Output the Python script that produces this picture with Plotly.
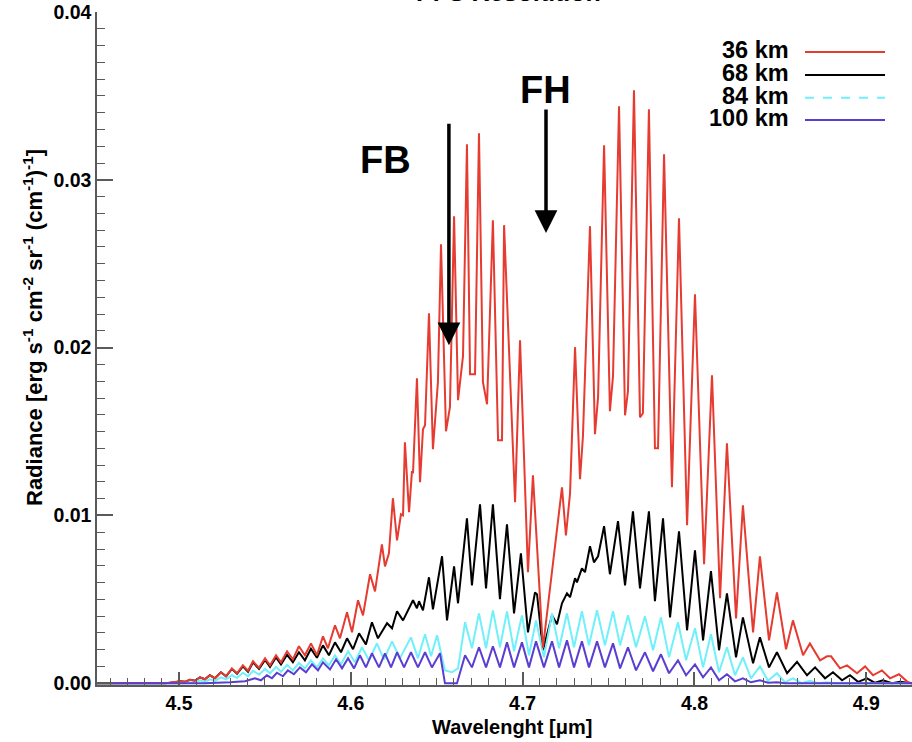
import plotly.graph_objects as go

# ---------------- data ----------------
wl_36 = [4.4523, 4.4889, 4.4948, 4.5006, 4.5035, 4.5064, 4.5093, 4.5122, 4.5151, 4.5180,
         4.5210, 4.5244, 4.5274, 4.5308, 4.5338, 4.5372, 4.5402, 4.5431, 4.5466, 4.5501,
         4.5530, 4.5565, 4.5594, 4.5629, 4.5663, 4.5698, 4.5733, 4.5768, 4.5803, 4.5838,
         4.5867, 4.5908, 4.5937, 4.5978, 4.6007, 4.6042, 4.6071, 4.6112, 4.6141, 4.6181,
         4.6199, 4.6222, 4.6245, 4.6269, 4.6292, 4.6304, 4.6315, 4.6339, 4.6356, 4.6362,
         4.6385, 4.6403, 4.6420, 4.6432, 4.6455, 4.6478, 4.6507, 4.6525, 4.6554, 4.6577,
         4.6601, 4.6624, 4.6653, 4.6676, 4.6694, 4.6723, 4.6746, 4.6769, 4.6793, 4.6827,
         4.6857, 4.6880, 4.6892, 4.6956, 4.6985, 4.7031, 4.7060, 4.7118, 4.7229, 4.7252,
         4.7276, 4.7305, 4.7334, 4.7351, 4.7392, 4.7421, 4.7439, 4.7474, 4.7508, 4.7526,
         4.7561, 4.7596, 4.7613, 4.7648, 4.7683, 4.7700, 4.7735, 4.7770, 4.7788, 4.7823,
         4.7869, 4.7910, 4.7957, 4.8003, 4.8056, 4.8102, 4.8149, 4.8189, 4.8242, 4.8282,
         4.8341, 4.8381, 4.8434, 4.8480, 4.8533, 4.8573, 4.8632, 4.8672, 4.8731, 4.8771,
         4.8795, 4.8847, 4.8888, 4.8946, 4.8993, 4.9039, 4.9091, 4.9138, 4.9190, 4.9243,
         4.9266]
rad_36 = [0, 0, 0.00003, 0.00012, 0.00009, 0.00021, 0.00015, 0.00036, 0.00024, 0.00048,
          0.00030, 0.00066, 0.00042, 0.00089, 0.00060, 0.00107, 0.00075, 0.00131, 0.00092, 0.00149,
          0.00107, 0.00167, 0.00125, 0.00191, 0.00143, 0.00221, 0.00167, 0.00238, 0.00167, 0.00280,
          0.00209, 0.00346, 0.00268, 0.00423, 0.00304, 0.00495, 0.00405, 0.00650, 0.00548, 0.00828,
          0.00697, 0.00775, 0.01103, 0.00852, 0.01007, 0.01001, 0.01436, 0.01019, 0.01264, 0.01252,
          0.01818, 0.01198, 0.01514, 0.01538, 0.02205, 0.01395, 0.01794, 0.02616, 0.01502, 0.01645,
          0.02783, 0.01687, 0.01949, 0.03212, 0.01842, 0.01842, 0.03278, 0.01794, 0.01663, 0.02759,
          0.01448, 0.01448, 0.02730, 0.01079, 0.02044, 0.00662, 0.01240, 0.00209, 0.01168, 0.00882,
          0.01132, 0.02003, 0.01216, 0.01472, 0.02724, 0.01484, 0.01705, 0.03206, 0.01621, 0.01830,
          0.03439, 0.01597, 0.01740, 0.03534, 0.01585, 0.01609, 0.03421, 0.01401, 0.01401, 0.03153,
          0.01168, 0.02771, 0.00942, 0.02318, 0.00709, 0.01836, 0.00507, 0.01430, 0.00387, 0.01061,
          0.00304, 0.00757, 0.00256, 0.00542, 0.00203, 0.00375, 0.00167, 0.00238, 0.00137, 0.00161,
          0.00161, 0.00089, 0.00107, 0.00060, 0.00101, 0.00048, 0.00077, 0.00030, 0.00054, 0.00006,
          0]

wl_68 = [4.4523, 4.4919, 4.4977, 4.5006, 4.5035, 4.5064, 4.5093, 4.5122, 4.5151, 4.5180,
         4.5210, 4.5244, 4.5274, 4.5308, 4.5338, 4.5372, 4.5402, 4.5431, 4.5466, 4.5501,
         4.5530, 4.5565, 4.5594, 4.5629, 4.5663, 4.5698, 4.5733, 4.5768, 4.5803, 4.5838,
         4.5873, 4.5908, 4.5943, 4.5978, 4.6013, 4.6048, 4.6088, 4.6123, 4.6158, 4.6211,
         4.6240, 4.6269, 4.6304, 4.6362, 4.6385, 4.6397, 4.6420, 4.6455, 4.6478, 4.6531,
         4.6560, 4.6601, 4.6624, 4.6676, 4.6705, 4.6752, 4.6787, 4.6827, 4.6868, 4.6909,
         4.6950, 4.6990, 4.7031, 4.7072, 4.7084, 4.7118, 4.7171, 4.7200, 4.7229, 4.7258,
         4.7276, 4.7305, 4.7316, 4.7345, 4.7363, 4.7392, 4.7415, 4.7439, 4.7474, 4.7508,
         4.7555, 4.7596, 4.7642, 4.7683, 4.7735, 4.7770, 4.7817, 4.7858, 4.7910, 4.7957,
         4.8003, 4.8050, 4.8096, 4.8143, 4.8189, 4.8242, 4.8282, 4.8341, 4.8381, 4.8434,
         4.8480, 4.8539, 4.8597, 4.8655, 4.8702, 4.8760, 4.8806, 4.8859, 4.8905, 4.8952,
         4.9004, 4.9051, 4.9097, 4.9150, 4.9196, 4.9243, 4.9266]
rad_68 = [0, 0, 0.00006, 0.00012, 0.00009, 0.00021, 0.00015, 0.00036, 0.00024, 0.00048,
          0.00030, 0.00066, 0.00042, 0.00086, 0.00057, 0.00101, 0.00069, 0.00125, 0.00086, 0.00140,
          0.00098, 0.00155, 0.00113, 0.00170, 0.00125, 0.00185, 0.00137, 0.00206, 0.00152, 0.00226,
          0.00167, 0.00244, 0.00185, 0.00268, 0.00203, 0.00298, 0.00232, 0.00364, 0.00268, 0.00358,
          0.00328, 0.00429, 0.00375, 0.00495, 0.00447, 0.00489, 0.00435, 0.00632, 0.00441, 0.00757,
          0.00375, 0.00697, 0.00477, 0.00983, 0.00584, 0.01067, 0.00566, 0.01067, 0.00501, 0.00948,
          0.00417, 0.00775, 0.00304, 0.00542, 0.00530, 0.00197, 0.00405, 0.00352, 0.00477, 0.00536,
          0.00513, 0.00626, 0.00602, 0.00685, 0.00662, 0.00817, 0.00721, 0.00757, 0.00936, 0.00650,
          0.00966, 0.00584, 0.01025, 0.00566, 0.01025, 0.00489, 0.00983, 0.00393, 0.00906, 0.00316,
          0.00793, 0.00256, 0.00668, 0.00197, 0.00536, 0.00155, 0.00393, 0.00119, 0.00274, 0.00095,
          0.00185, 0.00060, 0.00128, 0.00048, 0.00095, 0.00030, 0.00066, 0.00018, 0.00048, 0.00009,
          0.00030, 0.00003, 0.00018, 0, 0.00009, 0, 0]

wl_84 = [4.4523, 4.4948, 4.5006, 4.5035, 4.5064, 4.5093, 4.5122, 4.5151, 4.5180, 4.5210,
         4.5244, 4.5274, 4.5308, 4.5338, 4.5372, 4.5402, 4.5431, 4.5466, 4.5501, 4.5530,
         4.5565, 4.5594, 4.5629, 4.5663, 4.5698, 4.5733, 4.5768, 4.5803, 4.5838, 4.5873,
         4.5908, 4.5943, 4.5984, 4.6024, 4.6065, 4.6106, 4.6152, 4.6193, 4.6240, 4.6286,
         4.6350, 4.6391, 4.6432, 4.6467, 4.6502, 4.6548, 4.6589, 4.6624, 4.6665, 4.6705,
         4.6746, 4.6787, 4.6827, 4.6868, 4.6909, 4.6950, 4.6996, 4.7037, 4.7078, 4.7124,
         4.7171, 4.7212, 4.7258, 4.7299, 4.7345, 4.7386, 4.7433, 4.7479, 4.7526, 4.7567,
         4.7613, 4.7660, 4.7712, 4.7759, 4.7805, 4.7852, 4.7904, 4.7951, 4.8003, 4.8050,
         4.8096, 4.8143, 4.8189, 4.8236, 4.8282, 4.8329, 4.8381, 4.8428, 4.8480, 4.8527,
         4.8573, 4.8626, 4.8672, 4.8719, 4.8771, 4.8818, 4.9266]
rad_84 = [0, 0, 0.00003, 0, 0.00006, 0.00003, 0.00018, 0.00009, 0.00024, 0.00015,
          0.00036, 0.00024, 0.00048, 0.00033, 0.00063, 0.00042, 0.00075, 0.00051, 0.00086, 0.00060,
          0.00098, 0.00069, 0.00110, 0.00077, 0.00122, 0.00089, 0.00137, 0.00095, 0.00149, 0.00107,
          0.00167, 0.00113, 0.00191, 0.00125, 0.00215, 0.00137, 0.00238, 0.00143, 0.00250, 0.00149,
          0.00274, 0.00149, 0.00292, 0.00161, 0.00286, 0.00077, 0.00066, 0.00089, 0.00364, 0.00209,
          0.00417, 0.00209, 0.00435, 0.00215, 0.00429, 0.00191, 0.00405, 0.00167, 0.00375, 0.00155,
          0.00417, 0.00209, 0.00417, 0.00215, 0.00429, 0.00226, 0.00435, 0.00226, 0.00429, 0.00226,
          0.00405, 0.00215, 0.00399, 0.00197, 0.00393, 0.00155, 0.00364, 0.00137, 0.00328, 0.00095,
          0.00292, 0.00066, 0.00215, 0.00048, 0.00155, 0.00030, 0.00101, 0.00015, 0.00060, 0.00006,
          0.00030, 0, 0.00015, 0, 0.00006, 0, 0]

wl_100 = [4.4523, 4.5151, 4.5297, 4.5384, 4.5442, 4.5477, 4.5512, 4.5541, 4.5570, 4.5605,
          4.5634, 4.5669, 4.5704, 4.5739, 4.5774, 4.5809, 4.5838, 4.5879, 4.5914, 4.5949,
          4.5984, 4.6019, 4.6053, 4.6088, 4.6123, 4.6164, 4.6199, 4.6234, 4.6269, 4.6310,
          4.6350, 4.6391, 4.6432, 4.6472, 4.6519, 4.6548, 4.6618, 4.6665, 4.6705, 4.6746,
          4.6787, 4.6827, 4.6868, 4.6909, 4.6950, 4.6996, 4.7037, 4.7078, 4.7124, 4.7171,
          4.7212, 4.7258, 4.7299, 4.7345, 4.7386, 4.7433, 4.7479, 4.7526, 4.7567, 4.7613,
          4.7660, 4.7712, 4.7759, 4.7805, 4.7852, 4.7904, 4.7951, 4.8003, 4.8050, 4.8096,
          4.8143, 4.8189, 4.8236, 4.8282, 4.8329, 4.8381, 4.8428, 4.8480, 4.8527, 4.9266]
rad_100 = [0, 0, 0.00006, 0.00012, 0.00030, 0.00018, 0.00048, 0.00030, 0.00063, 0.00042,
           0.00077, 0.00054, 0.00095, 0.00066, 0.00113, 0.00077, 0.00125, 0.00083, 0.00143, 0.00089,
           0.00149, 0.00089, 0.00167, 0.00095, 0.00179, 0.00095, 0.00179, 0.00095, 0.00185, 0.00095,
           0.00185, 0.00095, 0.00185, 0.00095, 0.00179, 0, 0, 0.00167, 0.00095, 0.00215,
           0.00095, 0.00221, 0.00095, 0.00244, 0.00095, 0.00244, 0.00095, 0.00250, 0.00095, 0.00250,
           0.00095, 0.00256, 0.00095, 0.00250, 0.00095, 0.00250, 0.00095, 0.00238, 0.00089, 0.00215,
           0.00077, 0.00185, 0.00072, 0.00173, 0.00060, 0.00137, 0.00048, 0.00113, 0.00036, 0.00095,
           0.00018, 0.00054, 0.00012, 0.00030, 0.00006, 0.00018, 0.00003, 0.00006, 0, 0]

series_names = ["36 km", "68 km", "84 km", "100 km"]
series_colors = ["#e63b30", "#000000", "#6ff0fa", "#5a3ed2"]

x_range = [4.4523, 4.9266]
y_range = [-0.0001, 0.04]

fb_tip = (4.6571, 0.02015)
fh_tip = (4.7136, 0.02683)

FONT = "Liberation Sans, Arial, Helvetica, sans-serif"
AXC = "#5a5a5a"

fig = go.Figure()
traces = {
    "68 km": (wl_68, rad_68),
    "84 km": (wl_84, rad_84),
    "36 km": (wl_36, rad_36),
    "100 km": (wl_100, rad_100),
}
color_of = dict(zip(series_names, series_colors))
for name in ["68 km", "84 km", "36 km", "100 km"]:
    wl, rad = traces[name]
    fig.add_trace(go.Scatter(x=wl, y=rad, mode="lines", name=name,
                             line=dict(color=color_of[name], width=2),
                             showlegend=False, hoverinfo="skip"))

# custom legend (text left, line right)
legend_rows_y = [0.9405, 0.9063, 0.8727, 0.8395]
dashes = ["solid", "solid", "dash", "solid"]
for name, yy, dsh in zip(series_names, legend_rows_y, dashes):
    fig.add_shape(type="line", xref="paper", yref="paper", x0=0.8687, x1=0.9669,
                  y0=yy, y1=yy, line=dict(color=color_of[name], width=2, dash=dsh))
    fig.add_annotation(xref="paper", yref="paper", x=0.8503, y=yy + 0.003, text=name,
                       showarrow=False, xanchor="right", yanchor="middle", borderpad=0,
                       font=dict(family=FONT, size=23.5, color="black", weight="bold"))

# arrows and labels
fig.add_annotation(x=fb_tip[0], y=fb_tip[1], ax=0, ay=-223, text="", showarrow=True,
                   arrowhead=2, arrowsize=1.3, arrowwidth=3.5, arrowcolor="black", standoff=0)
fig.add_annotation(x=fh_tip[0], y=fh_tip[1], ax=0, ay=-125, text="", showarrow=True,
                   arrowhead=2, arrowsize=1.3, arrowwidth=3.5, arrowcolor="black", standoff=0)
fig.add_annotation(xref="paper", yref="paper", x=(385 - 97) / 815, y=(685 - 160) / 673,
                   text="FB", showarrow=False, xanchor="center", yanchor="middle",
                   font=dict(family=FONT, size=38, color="black", weight="bold"))
fig.add_annotation(xref="paper", yref="paper", x=(545 - 97) / 815, y=(685 - 90) / 673,
                   text="FH", showarrow=False, xanchor="center", yanchor="middle",
                   font=dict(family=FONT, size=38, color="black", weight="bold"))

# title (cut off at the top like the reference)
fig.add_annotation(xref="paper", yref="paper", x=(508 - 97) / 815, y=1.006,
                   text="PFS Resolution", showarrow=False, xanchor="center", yanchor="bottom",
                   font=dict(family=FONT, size=25, color="black", weight="bold"))

# axis titles
fig.add_annotation(xref="paper", yref="paper", x=(33 - 97) / 815, y=(685 - 328) / 673,
                   text="Radiance [erg s<sup>-1</sup> cm<sup>-2</sup> sr<sup>-1</sup> (cm<sup>-1</sup>)<sup>-1</sup>]",
                   showarrow=False, textangle=-90, xanchor="center", yanchor="middle",
                   font=dict(family=FONT, size=22, color="black", weight="bold"))
fig.add_annotation(xref="paper", yref="paper", x=(512 - 97) / 815, y=(685 - 727) / 673,
                   text="Wavelenght [μm]", showarrow=False, xanchor="center", yanchor="middle",
                   font=dict(family=FONT, size=20, color="black", weight="bold"))

fig.update_layout(
    width=912, height=742,
    margin=dict(l=97, r=0, t=12, b=57),
    paper_bgcolor="white", plot_bgcolor="white",
    showlegend=False,
    xaxis=dict(range=x_range, tick0=4.5, dtick=0.1, tickformat=".1f",
               ticks="inside", ticklen=13, tickwidth=1.5, tickcolor=AXC,
               showline=True, linecolor=AXC, linewidth=1.5, mirror=False,
               showgrid=False, zeroline=False,
               tickfont=dict(family=FONT, size=19.5, color="black", weight="bold"),
               minor=dict(tick0=4.5, dtick=0.01, ticks="inside", ticklen=7, tickwidth=1.2,
                          tickcolor=AXC, showgrid=False)),
    yaxis=dict(range=y_range, tick0=0, dtick=0.01, tickformat=".2f",
               ticks="inside", ticklen=16, tickwidth=1.5, tickcolor=AXC,
               showline=True, linecolor=AXC, linewidth=1.5, mirror=False,
               showgrid=False, zeroline=False,
               tickfont=dict(family=FONT, size=19.5, color="black", weight="bold"),
               minor=dict(tick0=0, dtick=0.001, ticks="inside", ticklen=8, tickwidth=1.2,
                          tickcolor=AXC, showgrid=False)),
)

fig.write_html("out.html")
